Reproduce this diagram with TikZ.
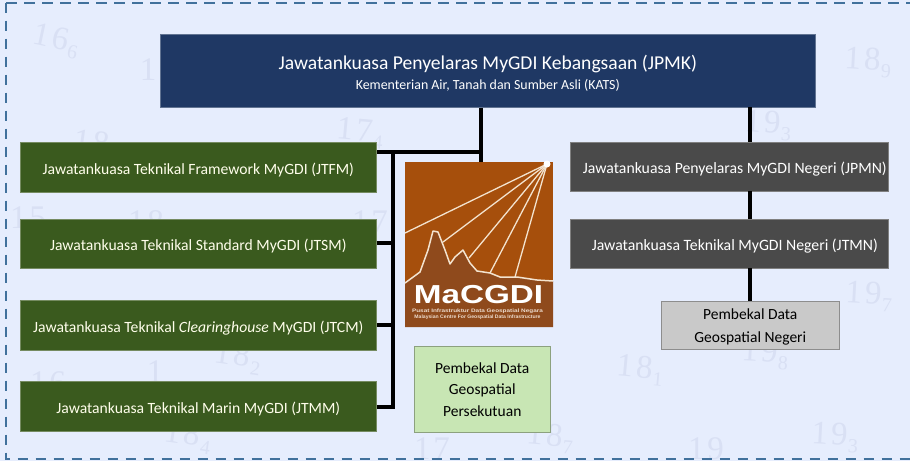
\documentclass[tikz,border=0pt]{standalone}
\usepackage{fontspec}
\setmainfont{Carlito}
\newfontfamily\numfont{Liberation Serif}
\newfontfamily\logofont{Liberation Sans}
\definecolor{bgblue}{HTML}{E6EDFD}
\definecolor{navy}{HTML}{1F3864}
\definecolor{leaf}{HTML}{3A5A1E}
\definecolor{slate}{HTML}{4A4A4A}
\definecolor{dashblue}{HTML}{41719C}
\definecolor{numcol}{HTML}{D9E0F4}
\definecolor{paleg}{HTML}{C8E6B4}
\definecolor{paleh}{HTML}{C9C9C9}
\definecolor{brownA}{HTML}{A64F0C}
\definecolor{brownB}{HTML}{8F4A1C}
\definecolor{raycol}{HTML}{F3E3CF}
\newcommand{\dropby}[2]{\raisebox{-#1pt}[\height][\depth]{#2}}
\newcommand{\numpair}[2]{#1\hspace{3pt}#2}
\newcommand{\subdigit}[1]{\hspace{1pt}\raisebox{-7pt}{\fontsize{20}{20}\selectfont #1}}
\tikzset{
  x=1pt,y=-1pt,
  boxbase/.style={draw=#1!70!white,line width=.6pt,fill=#1,text=white,inner sep=0pt,anchor=north west,align=center},
  navybox/.style={boxbase=navy},
  greenbox/.style={boxbase=leaf,font=\fontsize{15.65}{18}\selectfont,text=white!92!yellow},
  greybox/.style={boxbase=slate,font=\fontsize{15.75}{18}\selectfont},
  palebox/.style={draw=#1!70!black,line width=.5pt,fill=#1,text=black,inner sep=0pt,anchor=north west,align=center},
  link/.style={line width=3.8pt,draw=black,line cap=butt},
  bgnum/.style={text=numcol,font=\numfont\fontsize{33}{33}\selectfont,inner sep=0pt},
  ray/.style={draw=raycol,line width=1.3pt},
  framedash/.style={dashblue,line width=2pt,dash pattern=on 10.5pt off 7.5pt},
  logotext/.style={text=white!80!brownA,inner sep=0pt,font=\logofont\bfseries\fontsize{5}{5.5}\selectfont},
  logobig/.style={inner sep=0pt,xscale=1.28,font=\logofont\bfseries\fontsize{26}{26}\selectfont},
}
\begin{document}
\begin{tikzpicture}
\useasboundingbox (0,0) rectangle (910,461);
\fill[bgblue] (0,0) rectangle (910,461);
% faint background numerals
\node[bgnum,rotate=-12] (n1) at (56,41) {\numpair{1}{6}\subdigit{6}};
\node[bgnum] (n2) at (148,70) {1};
\node[bgnum,rotate=-8] (n3) at (92,142) {\numpair{1}{8}};
\node[bgnum,rotate=-5] (n4) at (360,133) {\numpair{1}{7}\subdigit{4}};
\node[bgnum] (n5) at (28,218) {\numpair{1}{5}};
\node[bgnum] (n6) at (146,222) {\numpair{1}{8}};
\node[bgnum] (n7) at (370,222) {\numpair{1}{7}};
\node[bgnum,rotate=-8] (n8) at (238,358) {\numpair{1}{8}\subdigit{2}};
\node[bgnum] (n9) at (155,372) {1};
\node[bgnum] (n10) at (48,383) {\numpair{1}{6}};
\node[bgnum,rotate=-8] (n11) at (188,437) {\numpair{1}{8}\subdigit{4}};
\node[bgnum] (n12) at (432,449) {\numpair{1}{7}};
\node[bgnum,rotate=-5] (n13) at (550,438) {\numpair{1}{8}\subdigit{7}};
\node[bgnum,rotate=-5] (n14) at (640,370) {\numpair{1}{8}\subdigit{1}};
\node[bgnum,rotate=-3] (n15) at (765,354) {\numpair{1}{9}\subdigit{8}};
\node[bgnum,rotate=-3] (n16) at (869,296) {\numpair{1}{9}\subdigit{7}};
\node[bgnum,rotate=-3] (n17) at (868,62) {\numpair{1}{8}\subdigit{9}};
\node[bgnum,rotate=-3] (n18) at (768,125) {\numpair{1}{9}\subdigit{3}};
\node[bgnum,rotate=-3] (n19) at (835,437) {\numpair{1}{9}\subdigit{3}};
\node[bgnum] (n20) at (706,449) {\numpair{1}{9}};
% dashed frame (open on the right)
\draw[framedash] (6,2.5) -- (910,2.5);
\draw[framedash] (6,2.5) -- (6,459) -- (910,459);
% boxes
\node[navybox,minimum width=655pt,minimum height=73pt] (jpmk) at (160,34) {\dropby{3}{\fontsize{19.6}{23}\selectfont Jawatankuasa Penyelaras MyGDI Kebangsaan (JPMK)}\\[7pt]\dropby{2}{\fontsize{13.9}{17}\selectfont Kementerian Air, Tanah dan Sumber Asli (KATS)}};
\node[greenbox,minimum width=356pt,minimum height=50pt] (jtfm) at (20,142) {\dropby{2.5}{Jawatankuasa Teknikal Framework MyGDI (JTFM)}};
\node[greenbox,minimum width=356pt,minimum height=49pt] (jtsm) at (20,219) {\dropby{2.5}{Jawatankuasa Teknikal Standard MyGDI (JTSM)}};
\node[greenbox,minimum width=356pt,minimum height=50pt] (jtcm) at (20,300) {\dropby{2.5}{Jawatankuasa Teknikal \textit{Clearinghouse} MyGDI (JTCM)}};
\node[greenbox,minimum width=356pt,minimum height=50pt] (jtmm) at (20,381) {\dropby{2.5}{Jawatankuasa Teknikal Marin MyGDI (JTMM)}};
\node[greybox,minimum width=318pt,minimum height=49pt] (jpmn) at (570,142) {\hspace*{11pt}\dropby{2}{Jawatankuasa Penyelaras MyGDI Negeri (JPMN)}};
\node[greybox,minimum width=318pt,minimum height=49pt] (jtmn) at (570,219) {\hspace*{11pt}\dropby{2}{Jawatankuasa Teknikal MyGDI Negeri (JTMN)}};
\node[palebox=paleh,font=\fontsize{15.5}{23}\selectfont,minimum width=178pt,minimum height=48pt] (pbn) at (661,301) {\dropby{2}{Pembekal Data}\\\dropby{2}{Geospatial Negeri}};
\node[palebox=paleg,font=\fontsize{15.5}{21.5}\selectfont,minimum width=136pt,minimum height=86pt] (pbp) at (414,346) {Pembekal Data\\Geospatial\\Persekutuan};
% connectors
\coordinate (busTop) at (393,152);
\coordinate (busBot) at (393,407);
\coordinate (trunk) at (481,152);
\coordinate (logoTop) at (481,163);
\coordinate (rightTop) at (750,107);
\coordinate (rightMidA) at (750,191);
\coordinate (rightMidB) at (750,219);
\coordinate (rightLowA) at (750,268);
\coordinate (rightLowB) at (750,301);
\coordinate (rightHigh) at (750,142);
\draw[link] (jpmk.south -| trunk) -- (logoTop);
\draw[link] (trunk) -- (busTop -| jtfm.east);
\draw[link] (busTop) -- (busBot);
\draw[link] (jtsm.east |- 0,243) -- (393,243);
\draw[link] (jtcm.east |- 0,325) -- (393,325);
\draw[link] (jtmm.east |- 0,407) -- (395,407);
\draw[link] (rightTop) -- (rightHigh);
\draw[link] (rightMidA) -- (rightMidB);
\draw[link] (rightLowA) -- (rightLowB);
% logo
\node[draw=none,fill=brownA,minimum width=148pt,minimum height=165pt,inner sep=0pt,anchor=north west] (logo) at (405,162) {};
\fill[brownB] (405,283) -- (420,272) -- (428,250) -- (433,231) -- (438,232) -- (445,250) -- (450,264) -- (455,257) -- (463,250) -- (470,263) -- (477,271) -- (490,273) -- (500,277) -- (517,277) -- (537,280) -- (553,281) -- (553,327) -- (405,327) -- cycle;
\coordinate (sun) at (547,164);
\draw[ray] (sun) -- (405,233);
\draw[ray] (sun) -- (443,242);
\draw[ray] (sun) -- (469,258);
\draw[ray] (sun) -- (490,273);
\draw[ray] (sun) -- (515,277);
\draw[ray,line width=1.5pt,line join=round] (405,283) -- (420,272) -- (428,250) -- (433,231) -- (438,232) -- (445,250) -- (450,264) -- (455,257) -- (463,250) -- (470,263) -- (477,271) -- (490,273) -- (500,277) -- (517,277) -- (537,280) -- (553,281);
\fill[white] (sun) circle (3.5pt);
\node[logobig,text=white] (logoname) at (478.5,295) {MaCGDI};
\node[logotext,xscale=1.28] (logosub1) at (477.5,311.5) {Pusat Infrastruktur Data Geospatial Negara};
\node[logotext,xscale=1.02] (logosub2) at (477.5,317.5) {Malaysian Centre For Geospatial Data Infrastructure};
\end{tikzpicture}
\end{document}
